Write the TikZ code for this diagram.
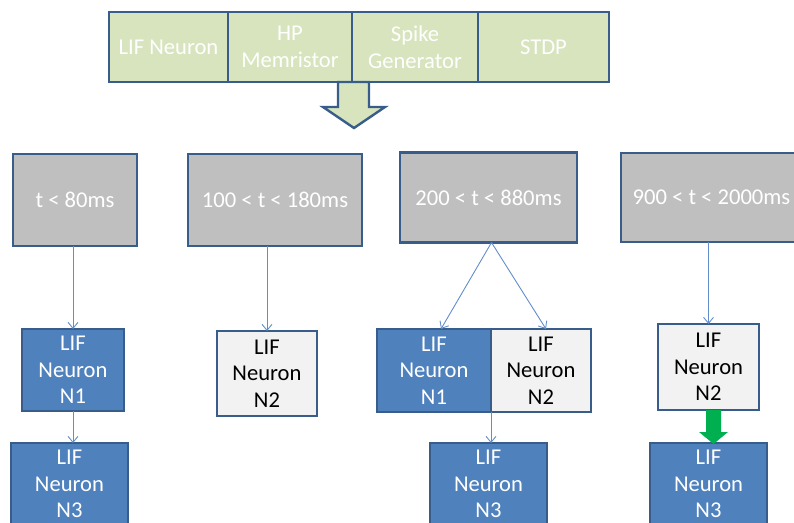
\documentclass[tikz,border=0pt]{standalone}
\usepackage{fontspec}
\setmainfont{Carlito}
\usetikzlibrary{arrows.meta}
\definecolor{blkgreen}{RGB}{215,228,189}
\definecolor{edgeblue}{RGB}{56,93,138}
\definecolor{lifblue}{RGB}{79,129,189}
\definecolor{wingray}{RGB}{191,191,191}
\definecolor{idlegray}{RGB}{242,242,242}
\definecolor{linkblue}{RGB}{98,142,204}
\definecolor{firegreen}{RGB}{0,176,80}

\begin{document}
\begin{tikzpicture}[x=1pt, y=-1pt,
  txt/.style={font=\fontsize{22.6}{26.5}\selectfont, align=center, inner sep=0pt, outer sep=0pt},
  block/.style={txt, draw=edgeblue, line width=2.8, fill=blkgreen, text=white, minimum height=70},
  window/.style={txt, draw=edgeblue, line width=2.2, fill=wingray, text=white, minimum height=90},
  fired/.style={txt, draw=edgeblue, line width=2, fill=lifblue, text=white, minimum height=82},
  idle/.style={txt, draw=edgeblue, line width=2, fill=idlegray, text=black, minimum height=84},
  link/.style={linkblue, line width=0.9, -{Straight Barb[length=6, width=10]}}]
\useasboundingbox (0,0) rectangle (794,522);
\clip (0,0) rectangle (794,522);
% building blocks
\node[block, minimum width=119] (lif) at (168.5,47) {LIF Neuron};
\node[block, minimum width=124] (memr) at (290,47) {HP\\Memristor};
\node[block, minimum width=126] (spk) at (415,47) {Spike\\Generator};
\node[block, minimum width=131] (stdp) at (543.5,47) {STDP};
% hollow arrow under the blocks
\draw[edgeblue, line width=2.4, fill=blkgreen]
  (338,82) -- (338,107) -- (323,107) -- (354,128) -- (385,107) -- (369,107) -- (369,82) -- cycle;
% time windows
\node[window, minimum width=124, minimum height=92] (win1) at (75,200) {t < 80ms};
\node[window, minimum width=174, minimum height=92] (win2) at (275,200) {100 < t < 180ms};
\node[window, minimum width=177] (win3) at (488.5,197.5) {200 < t < 880ms};
\node[window, minimum width=181, minimum height=89] (win4) at (711.5,197.5) {900 < t < 2000ms};
% t < 80ms: N1 then N3
\node[fired, minimum width=102] (a1) at (73,370) {LIF\\Neuron\\N1};
\node[fired, minimum width=117] (a3) at (69.5,484) {LIF\\Neuron\\N3};
% 100 < t < 180ms: N2
\node[idle, minimum width=100, minimum height=85] (b2) at (267,373.5) {LIF\\Neuron\\N2};
% 200 < t < 880ms: N1 and N2 then N3
\node[idle, minimum width=100, minimum height=83] (c2) at (541,370.5) {LIF\\Neuron\\N2};
\node[fired, minimum width=114, minimum height=83] (c1) at (434,370.5) {LIF\\Neuron\\N1};
\node[fired, minimum width=117] (c3) at (488.5,484) {LIF\\Neuron\\N3};
% 900 < t < 2000ms: N2 then N3
\node[idle, minimum width=101, minimum height=86] (d2) at (708.5,367) {LIF\\Neuron\\N2};
\node[fired, minimum width=117] (d3) at (708.5,484) {LIF\\Neuron\\N3};
% links
\draw[link] (win1.south -| a1.north) -- (a1.north);
\draw[link] (a1.south) -- (a1.south |- a3.north);
\draw[link] (win2.south -| b2.north) -- (b2.north);
\draw[link] ([xshift=3]win3.south) -- ([xshift=7]c1.north);
\draw[link] ([xshift=3]win3.south) -- ([xshift=5]c2.north);
\draw[link] (c1.south east) -- (c1.south east |- c3.north);
\draw[link] (win4.south -| d2.north) -- (d2.north);
% green arrow N2 -> N3
\fill[firegreen] (706,410) -- (706,432) -- (699,432) -- (713.5,444) -- (728,432) -- (721,432) -- (721,410) -- cycle;
\end{tikzpicture}
\end{document}
